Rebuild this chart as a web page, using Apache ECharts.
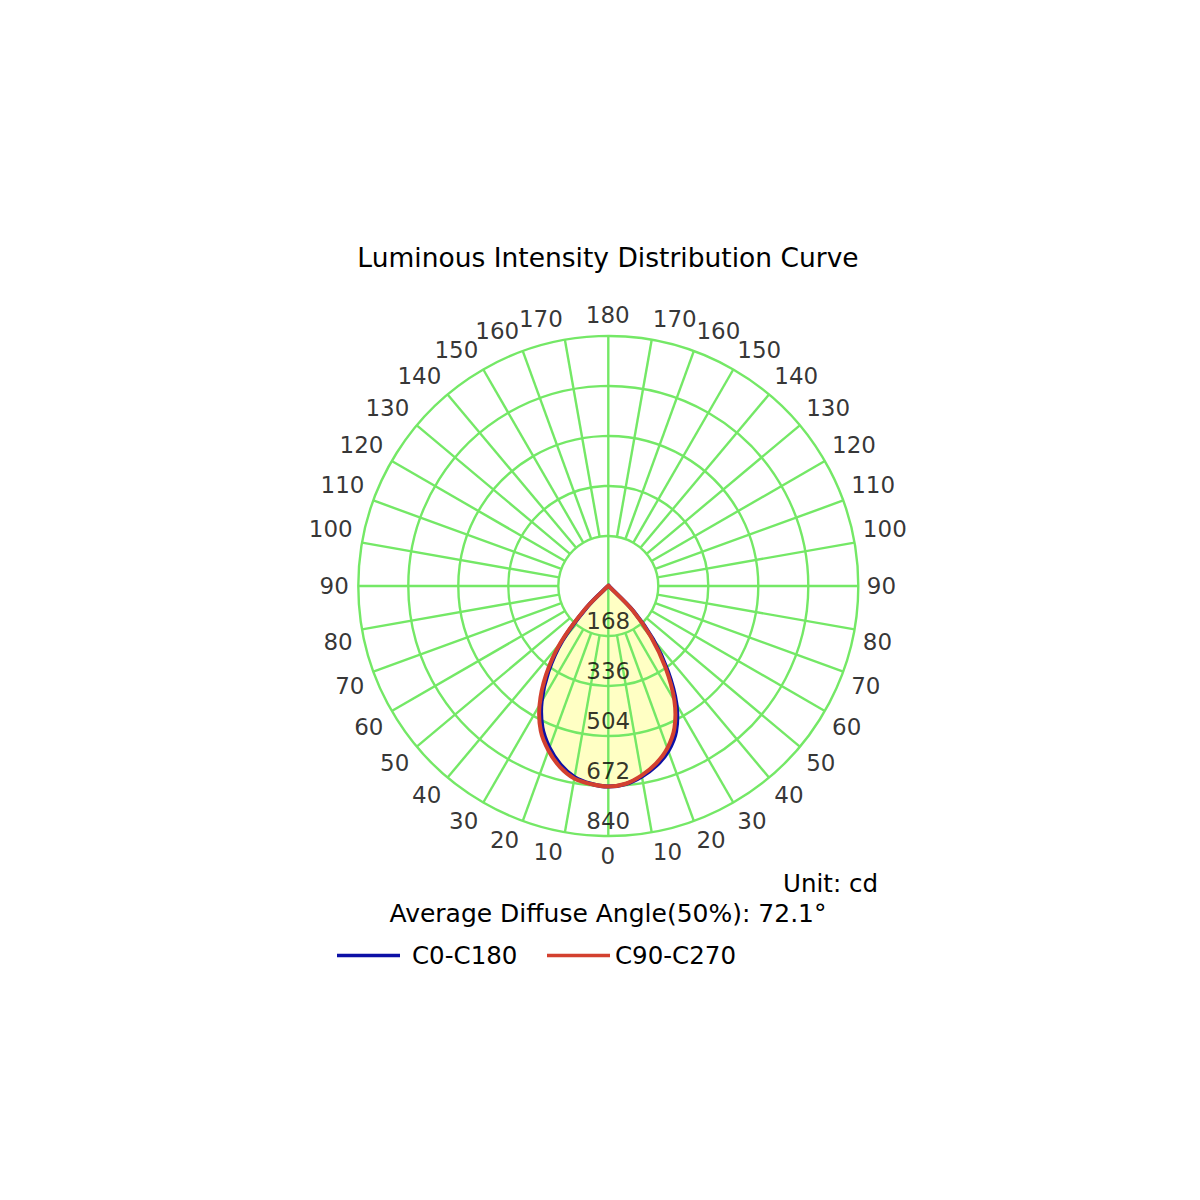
<!DOCTYPE html>
<html>
<head>
<meta charset="utf-8">
<script src="https://cdn.jsdelivr.net/npm/echarts@6/dist/echarts.min.js"></script>
<style>
html,body{margin:0;padding:0;background:#ffffff;}
#chart{width:1200px;height:1200px;}
</style>
</head>
<body>
<div id="chart"></div>
<script>
// ---- data ----
const angleSteps = [0,5,10,15,20,25,30,35,40,45,50,55,60,65,70,75,80,85,90];
// C0-C180 plane (blue): C0 drawn on the right half, C180 on the left half
const c0   = [674,668,650,625,590,539,458,349,234,122,14,0,0,0,0,0,0,0,0];
const c180 = [674,667,652,621,578,524,448,351,240,105,8,0,0,0,0,0,0,0,0];
// C90-C270 plane (red): C90 on the right half, C270 on the left half
const c90  = [674,667,646,618,580,526,444,335,222,115,12,0,0,0,0,0,0,0,0];
const c270 = [674,668,657,629,588,537,462,365,252,115,10,0,0,0,0,0,0,0,0];

const radiusTicks = [168,336,504,672,840];
const angleTicks = [0,10,20,30,40,50,60,70,80,90,100,110,120,130,140,150,160,170,
                    180,190,200,210,220,230,240,250,260,270,280,290,300,310,320,330,340,350];
const angleTickLabels = ['0','10','20','30','40','50','60','70','80','90','100','110','120','130','140','150','160','170',
                         '180','170','160','150','140','130','120','110','100','90','80','70','60','50','40','30','20','10'];

const seriesNames = ['C0-C180','C90-C270'];
const titleText = 'Luminous Intensity Distribution Curve';
const unitText = 'Unit: cd';
const diffuseText = 'Average Diffuse Angle(50%): 72.1°';

// ---- styling ----
const FONT = 'DejaVu Sans';
const GRID = '#74e866';
const BLUE = '#0c10a6';
const RED = '#d3402f';
const FILL = '#ffffc4';
const TXT = '#000000';
const CX = 608.3, CY = 586, R = 250;
const rMax = radiusTicks[radiusTicks.length - 1];

function planeToPolar(rightHalf, leftHalf) {
  const pts = [];
  for (let i = angleSteps.length - 1; i >= 1; i--) pts.push([rightHalf[i], 360 - angleSteps[i]]);
  pts.push([rightHalf[0], 0]);
  for (let i = 1; i < angleSteps.length; i++) pts.push([leftHalf[i], angleSteps[i]]);
  return pts;
}
const blueData = planeToPolar(c0, c180);
const redData = planeToPolar(c90, c270);

const LABEL_MARGIN = 9;
const angleLabelData = angleTicks.map(function (a) {
  const rad = a * Math.PI / 180;
  const sx = -Math.sin(rad), sy = Math.cos(rad);
  const eps = 1e-6;
  return {
    value: [rMax, a],
    label: {
      position: [LABEL_MARGIN * sx, LABEL_MARGIN * sy],
      align: sx < -eps ? 'right' : (sx > eps ? 'left' : 'center'),
      verticalAlign: sy > eps ? 'top' : (sy < -eps ? 'bottom' : 'middle')
    }
  };
});

// smooth closed-ish curve through the library-projected points (Catmull-Rom -> Bezier)
function smoothPath(api, data) {
  const pts = [];
  data.forEach(function (d) {
    const p = api.coord(d);
    const last = pts[pts.length - 1];
    if (!last || Math.hypot(p[0] - last[0], p[1] - last[1]) > 0.5) pts.push(p);
  });
  let s = 'M' + pts[0][0].toFixed(2) + ' ' + pts[0][1].toFixed(2);
  for (let i = 0; i < pts.length - 1; i++) {
    const p0 = pts[Math.max(i - 1, 0)], p1 = pts[i], p2 = pts[i + 1], p3 = pts[Math.min(i + 2, pts.length - 1)];
    const c1x = p1[0] + (p2[0] - p0[0]) / 6, c1y = p1[1] + (p2[1] - p0[1]) / 6;
    const c2x = p2[0] - (p3[0] - p1[0]) / 6, c2y = p2[1] - (p3[1] - p1[1]) / 6;
    s += ' C' + c1x.toFixed(2) + ' ' + c1y.toFixed(2) + ' ' + c2x.toFixed(2) + ' ' + c2y.toFixed(2) +
         ' ' + p2[0].toFixed(2) + ' ' + p2[1].toFixed(2);
  }
  return s;
}

function curveSeries(name, data, color, z, asFill) {
  return {
    name: name, type: 'custom', coordinateSystem: 'polar', data: data, z: z, silent: true,
    itemStyle: {color: asFill ? FILL : color},
    renderItem: function (params, api) {
      if (params.dataIndex !== 0) return null;
      const d = smoothPath(api, data) + (asFill ? ' Z' : '');
      return {
        type: 'path', shape: {pathData: d},
        style: asFill ? {fill: FILL, stroke: null}
                      : {fill: null, stroke: color, lineWidth: 4, lineJoin: 'round', lineCap: 'round'}
      };
    }
  };
}

const chart = echarts.init(document.getElementById('chart'), null, {renderer: 'svg', width: 1200, height: 1200});

function titleAt(text, x, yCenter, size, align) {
  const lh = Math.round(size * 1.2);
  return {
    text: text, left: x, top: yCenter - lh / 2, textAlign: align, padding: 0,
    textStyle: {fontFamily: FONT, fontSize: size, fontWeight: 'normal', color: TXT, lineHeight: lh}
  };
}

const legendBase = {
  top: 943, padding: 0, selectedMode: false, icon: 'rect',
  itemWidth: 63, itemHeight: 3.5,
  textStyle: {fontFamily: FONT, fontSize: 24.5, color: TXT}
};

const option = {
  backgroundColor: '#ffffff',
  animation: false,
  title: [
    titleAt(titleText, 608, 257, 26.5, 'center'),
    titleAt(unitText, 878, 883, 24.5, 'right'),
    titleAt(diffuseText, 608, 913, 25, 'center')
  ],
  legend: [
    Object.assign({}, legendBase, {data: [seriesNames[0]], left: 337,
      textStyle: {fontFamily: FONT, fontSize: 24.5, color: TXT, padding: [0, 0, 0, 7]}}),
    Object.assign({}, legendBase, {data: [seriesNames[1]], left: 547})
  ],
  polar: {center: [CX, CY], radius: R},
  angleAxis: {
    type: 'value', min: 0, max: 360, interval: 10, startAngle: 270, clockwise: true,
    axisLine: {show: false}, axisTick: {show: false}, axisLabel: {show: false}, splitLine: {show: false}
  },
  radiusAxis: {
    type: 'value', min: 0, max: rMax, interval: radiusTicks[0],
    axisLine: {show: false}, axisTick: {show: false}, axisLabel: {show: false}, splitLine: {show: false}
  },
  series: [
    curveSeries('fill-a', blueData, FILL, 1, true),
    curveSeries('fill-b', redData, FILL, 1, true),
    {
      name: 'rings', type: 'custom', coordinateSystem: 'polar', silent: true, z: 2,
      data: radiusTicks.map(function (r) { return [r, 0]; }),
      renderItem: function (params, api) {
        const c = api.coord([0, 0]);
        const p = api.coord([api.value(0), 0]);
        const rr = Math.hypot(p[0] - c[0], p[1] - c[1]);
        return {type: 'circle', shape: {cx: c[0], cy: c[1], r: rr},
                style: {fill: 'none', stroke: GRID, lineWidth: 2.4}};
      }
    },
    {
      name: 'spokes', type: 'custom', coordinateSystem: 'polar', silent: true, z: 2,
      data: angleTicks.map(function (a) { return [a % 180 === 0 ? 0 : radiusTicks[0], a]; }),
      renderItem: function (params, api) {
        const p1 = api.coord([api.value(0), api.value(1)]);
        const p2 = api.coord([rMax, api.value(1)]);
        return {type: 'line', shape: {x1: p1[0], y1: p1[1], x2: p2[0], y2: p2[1]},
                style: {stroke: GRID, lineWidth: 2.4}};
      }
    },
    curveSeries(seriesNames[0], blueData, BLUE, 3, false),
    curveSeries(seriesNames[1], redData, RED, 4, false),
    {
      name: 'radius-labels', type: 'scatter', coordinateSystem: 'polar', silent: true, z: 5,
      data: radiusTicks.map(function (r) { return [r, 0]; }),
      symbol: 'circle', symbolSize: 1, itemStyle: {color: 'transparent'},
      label: {show: true, position: 'top', distance: 3, formatter: function (p) { return String(p.value[0]); },
              fontFamily: FONT, fontSize: 23, color: TXT}
    },
    {
      name: 'angle-labels', type: 'scatter', coordinateSystem: 'polar', silent: true, z: 5,
      data: angleLabelData,
      symbol: 'circle', symbolSize: 1, itemStyle: {color: 'transparent'},
      label: {show: true, formatter: function (p) { return angleTickLabels[p.dataIndex]; },
              fontFamily: FONT, fontSize: 23, color: TXT}
    }
  ]
};
chart.setOption(option);
</script>
</body>
</html>
